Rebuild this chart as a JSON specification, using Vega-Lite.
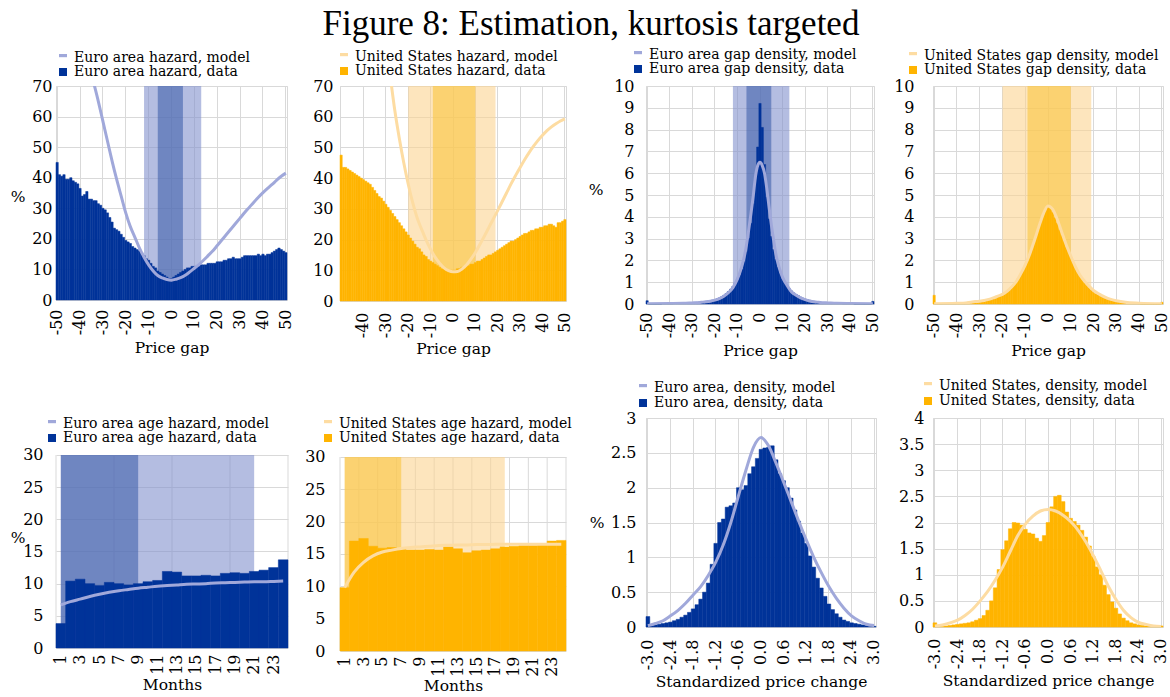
{
"$schema": "https://vega.github.io/schema/vega-lite/v6.json",
"padding": {"left": 0, "top": 7, "right": 0, "bottom": 0},
"title": {"text": "Figure 8: Estimation, kurtosis targeted", "anchor": "middle", "dx": 6, "font": "Liberation Serif", "fontSize": 35, "fontWeight": "normal", "color": "#000", "offset": 3},
"config": {
 "font": "DejaVu Serif, Liberation Serif, serif",
 "view": {"stroke": "#d9d9d9"},
 "axis": {"labelFont": "DejaVu Serif, Liberation Serif, serif", "labelFontSize": 16, "labelColor": "#000", "labelOverlap": false, "labelBound": false, "labelFlush": false, "titleFont": "DejaVu Serif, Liberation Serif, serif", "titleFontSize": 15.5, "titleFontWeight": "normal", "titleColor": "#000", "ticks": false, "domain": false, "gridColor": "#d9d9d9", "gridWidth": 1},
 "legend": {"orient": "none", "direction": "vertical", "labelFont": "DejaVu Serif, Liberation Serif, serif", "labelFontSize": 14, "labelColor": "#000", "labelLimit": 400, "symbolSize": 64, "symbolStrokeWidth": 0, "labelOffset": 4, "padding": 0, "rowPadding": 0}
},
"resolve": {"scale": {"color": "independent", "shape": "independent"}, "legend": {"color": "independent", "shape": "independent"}},
"datasets": {
"p1": [{"g":-50,"d":45},{"g":-49,"d":41},{"g":-48,"d":40.5},{"g":-47,"d":41},{"g":-46,"d":39.5},{"g":-45,"d":39.5},{"g":-44,"d":40},{"g":-43,"d":39},{"g":-42,"d":38.5},{"g":-41,"d":38},{"g":-40,"d":36.5},{"g":-39,"d":34},{"g":-38,"d":34.5},{"g":-37,"d":35.5},{"g":-36,"d":33},{"g":-35,"d":33},{"g":-34,"d":32.5,"f":71},{"g":-33,"d":32.5},{"g":-32,"d":31.5,"f":65},{"g":-31,"d":31},{"g":-30,"d":30,"f":58.5},{"g":-29,"d":29.5},{"g":-28,"d":28.5,"f":52},{"g":-27,"d":27},{"g":-26,"d":25.5,"f":45.5},{"g":-25,"d":23.5},{"g":-24,"d":23,"f":39.5},{"g":-23,"d":22.5},{"g":-22,"d":21.5,"f":34},{"g":-21,"d":20.5},{"g":-20,"d":19.5,"f":28.5},{"g":-19,"d":19},{"g":-18,"d":18.5,"f":24},{"g":-17,"d":17.5},{"g":-16,"d":17,"f":20.5},{"g":-15,"d":16.5},{"g":-14,"d":16,"f":17},{"g":-13,"d":15.5},{"g":-12,"d":14.5,"f":14},{"g":-11,"d":13.5},{"g":-10,"d":13,"f":11.5},{"g":-9,"d":12},{"g":-8,"d":11,"f":9.5},{"g":-7,"d":10.5},{"g":-6,"d":9.5,"f":8},{"g":-5,"d":9},{"g":-4,"d":8.5,"f":7.2},{"g":-3,"d":8},{"g":-2,"d":7.5,"f":6.7},{"g":-1,"d":7},{"g":0,"d":7,"f":6.5},{"g":1,"d":7.5},{"g":2,"d":8,"f":6.8},{"g":3,"d":8.5},{"g":4,"d":9,"f":7.3},{"g":5,"d":9.5},{"g":6,"d":10,"f":8.1},{"g":7,"d":10.5},{"g":8,"d":10.5,"f":9.2},{"g":9,"d":11},{"g":10,"d":11,"f":10.4},{"g":11,"d":11},{"g":12,"d":11,"f":11.6},{"g":13,"d":11.5},{"g":14,"d":11.5,"f":13},{"g":15,"d":11.5},{"g":16,"d":12,"f":14.5},{"g":17,"d":12},{"g":18,"d":12,"f":16},{"g":19,"d":12},{"g":20,"d":12.5,"f":17.8},{"g":21,"d":12.5},{"g":22,"d":12.5,"f":19.6},{"g":23,"d":13},{"g":24,"d":13,"f":21.4},{"g":25,"d":13.5},{"g":26,"d":13.5,"f":23.2},{"g":27,"d":14},{"g":28,"d":13.5,"f":25},{"g":29,"d":13.5},{"g":30,"d":13.5,"f":26.8},{"g":31,"d":14},{"g":32,"d":14.5,"f":28.6},{"g":33,"d":14.5},{"g":34,"d":14.5,"f":30.3},{"g":35,"d":14.5},{"g":36,"d":14.5,"f":32},{"g":37,"d":14.5},{"g":38,"d":15,"f":33.6},{"g":39,"d":14.5},{"g":40,"d":15,"f":35.1},{"g":41,"d":14.5},{"g":42,"d":15,"f":36.5},{"g":43,"d":15},{"g":44,"d":15.5,"f":37.8},{"g":45,"d":16},{"g":46,"d":16.5,"f":39.2},{"g":47,"d":17},{"g":48,"d":16.5,"f":40.5},{"g":49,"d":16},{"g":50,"d":15.5,"f":41.5}],
"p2": [{"g":-50,"d":47.5},{"g":-49,"d":43.5},{"g":-48,"d":43.5},{"g":-47,"d":43},{"g":-46,"d":42.5},{"g":-45,"d":42},{"g":-44,"d":41.5},{"g":-43,"d":41},{"g":-42,"d":40.5},{"g":-41,"d":40},{"g":-40,"d":39.5},{"g":-39,"d":39},{"g":-38,"d":38.5},{"g":-37,"d":38},{"g":-36,"d":37},{"g":-35,"d":36},{"g":-34,"d":35},{"g":-33,"d":34},{"g":-32,"d":33.5},{"g":-31,"d":32.5},{"g":-30,"d":31.5},{"g":-29,"d":30.5},{"g":-28,"d":29.5,"f":73},{"g":-27,"d":28.5},{"g":-26,"d":27.5,"f":62},{"g":-25,"d":26.5},{"g":-24,"d":25.5,"f":53},{"g":-23,"d":24.5},{"g":-22,"d":23.5,"f":45},{"g":-21,"d":22.5},{"g":-20,"d":21.5,"f":38},{"g":-19,"d":20.5},{"g":-18,"d":19.5,"f":32},{"g":-17,"d":18.5},{"g":-16,"d":17.5,"f":27},{"g":-15,"d":17},{"g":-14,"d":16,"f":23.3},{"g":-13,"d":15},{"g":-12,"d":14.5,"f":19.8},{"g":-11,"d":13.5},{"g":-10,"d":13,"f":16.8},{"g":-9,"d":12.5},{"g":-8,"d":12,"f":14.3},{"g":-7,"d":11.5},{"g":-6,"d":11,"f":12.3},{"g":-5,"d":10.5},{"g":-4,"d":10.5,"f":10.8},{"g":-3,"d":10},{"g":-2,"d":10,"f":9.9},{"g":-1,"d":10},{"g":0,"d":10,"f":9.5},{"g":1,"d":10},{"g":2,"d":10.5,"f":9.6},{"g":3,"d":10.5},{"g":4,"d":11,"f":10.4},{"g":5,"d":11},{"g":6,"d":11.5,"f":11.7},{"g":7,"d":11.5},{"g":8,"d":12,"f":13.6},{"g":9,"d":12},{"g":10,"d":12.5,"f":15.8},{"g":11,"d":13},{"g":12,"d":13,"f":18.4},{"g":13,"d":13.5},{"g":14,"d":14,"f":21.1},{"g":15,"d":14.5},{"g":16,"d":15,"f":23.9},{"g":17,"d":15},{"g":18,"d":15.5,"f":26.7},{"g":19,"d":16},{"g":20,"d":16.5,"f":29.5},{"g":21,"d":17},{"g":22,"d":17.5,"f":32.4},{"g":23,"d":18},{"g":24,"d":18.5,"f":35.3},{"g":25,"d":19},{"g":26,"d":19.5,"f":38.2},{"g":27,"d":19.5},{"g":28,"d":20,"f":40.9},{"g":29,"d":20.5},{"g":30,"d":21,"f":43.5},{"g":31,"d":21.5},{"g":32,"d":22,"f":46},{"g":33,"d":22},{"g":34,"d":22.5,"f":48.3},{"g":35,"d":23},{"g":36,"d":23,"f":50.4},{"g":37,"d":23.5},{"g":38,"d":23.5,"f":52.3},{"g":39,"d":24},{"g":40,"d":24,"f":54},{"g":41,"d":24.5},{"g":42,"d":24.5,"f":55.5},{"g":43,"d":25},{"g":44,"d":25,"f":56.7},{"g":45,"d":24.5},{"g":46,"d":24,"f":57.7},{"g":47,"d":25.5},{"g":48,"d":25.5,"f":58.6},{"g":49,"d":26},{"g":50,"d":26.5,"f":59.3}],
"p3": [{"g":-50,"d":0.15,"f":0.01},{"g":-49,"d":0.01},{"g":-48,"d":0.01},{"g":-47,"d":0.01},{"g":-46,"d":0.01},{"g":-45,"d":0.01},{"g":-44,"d":0.01},{"g":-43,"d":0.02},{"g":-42,"d":0.02},{"g":-41,"d":0.02},{"g":-40,"d":0.02,"f":0.02},{"g":-39,"d":0.02},{"g":-38,"d":0.03},{"g":-37,"d":0.03},{"g":-36,"d":0.03},{"g":-35,"d":0.04},{"g":-34,"d":0.04,"f":0.03},{"g":-33,"d":0.05},{"g":-32,"d":0.05},{"g":-31,"d":0.06},{"g":-30,"d":0.06,"f":0.05},{"g":-29,"d":0.07},{"g":-28,"d":0.08,"f":0.06},{"g":-27,"d":0.09},{"g":-26,"d":0.1,"f":0.08},{"g":-25,"d":0.11},{"g":-24,"d":0.12,"f":0.1},{"g":-23,"d":0.14},{"g":-22,"d":0.16,"f":0.13},{"g":-21,"d":0.18},{"g":-20,"d":0.2,"f":0.18},{"g":-19,"d":0.24},{"g":-18,"d":0.28,"f":0.25},{"g":-17,"d":0.33},{"g":-16,"d":0.4,"f":0.36},{"g":-15,"d":0.48},{"g":-14,"d":0.57,"f":0.52},{"g":-13,"d":0.68},{"g":-12,"d":0.8,"f":0.75},{"g":-11,"d":0.95},{"g":-10,"d":1.1,"f":1.15},{"g":-9,"d":1.33,"f":1.42},{"g":-8,"d":1.6,"f":1.75},{"g":-7,"d":1.95,"f":2.15},{"g":-6,"d":2.4,"f":2.7},{"g":-5,"d":3.0,"f":3.4},{"g":-4,"d":3.7,"f":4.15},{"g":-3,"d":4.6,"f":4.95},{"g":-2,"d":5.7,"f":5.85},{"g":-1,"d":7.2,"f":6.35},{"g":0,"d":9.2,"f":6.5},{"g":1,"d":8.1,"f":6.35},{"g":2,"d":6.4,"f":6.0},{"g":3,"d":4.9,"f":5.3},{"g":4,"d":3.9,"f":4.45},{"g":5,"d":3.1,"f":3.65},{"g":6,"d":2.5,"f":2.95},{"g":7,"d":2.05,"f":2.3},{"g":8,"d":1.7,"f":1.85},{"g":9,"d":1.4,"f":1.5},{"g":10,"d":1.15,"f":1.22},{"g":11,"d":0.97},{"g":12,"d":0.82,"f":0.85},{"g":13,"d":0.7},{"g":14,"d":0.6,"f":0.55},{"g":15,"d":0.51},{"g":16,"d":0.44,"f":0.4},{"g":17,"d":0.38},{"g":18,"d":0.32,"f":0.28},{"g":19,"d":0.27},{"g":20,"d":0.23,"f":0.2},{"g":21,"d":0.2},{"g":22,"d":0.17,"f":0.14},{"g":23,"d":0.14},{"g":24,"d":0.12,"f":0.1},{"g":25,"d":0.1},{"g":26,"d":0.09,"f":0.08},{"g":27,"d":0.08},{"g":28,"d":0.07,"f":0.06},{"g":29,"d":0.06},{"g":30,"d":0.05,"f":0.05},{"g":31,"d":0.05},{"g":32,"d":0.04},{"g":33,"d":0.04},{"g":34,"d":0.03,"f":0.03},{"g":35,"d":0.03},{"g":36,"d":0.03},{"g":37,"d":0.02},{"g":38,"d":0.02},{"g":39,"d":0.02},{"g":40,"d":0.02,"f":0.02},{"g":41,"d":0.02},{"g":42,"d":0.01},{"g":43,"d":0.01},{"g":44,"d":0.01},{"g":45,"d":0.01},{"g":46,"d":0.01},{"g":47,"d":0.01},{"g":48,"d":0.01},{"g":49,"d":0.01},{"g":50,"d":0.12,"f":0.01}],
"p4": [{"g":-50,"d":0.4,"f":0.01},{"g":-49,"d":0.02},{"g":-48,"d":0.02},{"g":-47,"d":0.02},{"g":-46,"d":0.03},{"g":-45,"d":0.03},{"g":-44,"d":0.03},{"g":-43,"d":0.04},{"g":-42,"d":0.04},{"g":-41,"d":0.05},{"g":-40,"d":0.05,"f":0.03},{"g":-39,"d":0.06},{"g":-38,"d":0.06},{"g":-37,"d":0.07},{"g":-36,"d":0.07,"f":0.05},{"g":-35,"d":0.08},{"g":-34,"d":0.09,"f":0.08},{"g":-33,"d":0.1},{"g":-32,"d":0.11,"f":0.11},{"g":-31,"d":0.12},{"g":-30,"d":0.14,"f":0.13},{"g":-29,"d":0.16},{"g":-28,"d":0.18,"f":0.16},{"g":-27,"d":0.2},{"g":-26,"d":0.22,"f":0.21},{"g":-25,"d":0.25},{"g":-24,"d":0.28,"f":0.28},{"g":-23,"d":0.31},{"g":-22,"d":0.35,"f":0.36},{"g":-21,"d":0.4},{"g":-20,"d":0.45,"f":0.44},{"g":-19,"d":0.5},{"g":-18,"d":0.57,"f":0.58},{"g":-17,"d":0.66},{"g":-16,"d":0.76,"f":0.78},{"g":-15,"d":0.87},{"g":-14,"d":1.0,"f":1.02},{"g":-13,"d":1.17},{"g":-12,"d":1.35,"f":1.38},{"g":-11,"d":1.55},{"g":-10,"d":1.75,"f":1.8},{"g":-9,"d":2.0},{"g":-8,"d":2.25,"f":2.3},{"g":-7,"d":2.55},{"g":-6,"d":2.85,"f":2.9},{"g":-5,"d":3.2},{"g":-4,"d":3.5,"f":3.55},{"g":-3,"d":3.85},{"g":-2,"d":4.1,"f":4.15},{"g":-1,"d":4.35},{"g":0,"d":4.45,"f":4.5},{"g":1,"d":4.38},{"g":2,"d":4.2,"f":4.35},{"g":3,"d":3.95},{"g":4,"d":3.7,"f":3.9},{"g":5,"d":3.4},{"g":6,"d":3.15,"f":3.3},{"g":7,"d":2.88},{"g":8,"d":2.6,"f":2.72},{"g":9,"d":2.4},{"g":10,"d":2.15,"f":2.2},{"g":11,"d":1.9},{"g":12,"d":1.68,"f":1.72},{"g":13,"d":1.48},{"g":14,"d":1.3,"f":1.33},{"g":15,"d":1.13},{"g":16,"d":0.98,"f":1.05},{"g":17,"d":0.86},{"g":18,"d":0.75,"f":0.82},{"g":19,"d":0.65},{"g":20,"d":0.56,"f":0.62},{"g":21,"d":0.48},{"g":22,"d":0.42,"f":0.48},{"g":23,"d":0.36},{"g":24,"d":0.31,"f":0.37},{"g":25,"d":0.26},{"g":26,"d":0.22,"f":0.27},{"g":27,"d":0.19},{"g":28,"d":0.16,"f":0.2},{"g":29,"d":0.13},{"g":30,"d":0.11,"f":0.15},{"g":31,"d":0.09},{"g":32,"d":0.08},{"g":33,"d":0.07},{"g":34,"d":0.06,"f":0.08},{"g":35,"d":0.05},{"g":36,"d":0.04},{"g":37,"d":0.04},{"g":38,"d":0.03},{"g":39,"d":0.03},{"g":40,"d":0.02,"f":0.04},{"g":41,"d":0.01},{"g":42,"d":0.01},{"g":43,"d":0.01},{"g":44,"d":0.01},{"g":45,"d":0.01},{"g":46,"d":0.01},{"g":47,"d":0.01},{"g":48,"d":0.01},{"g":49,"d":0.01},{"g":50,"d":0.08,"f":0.01}],
"p5": [{"g":1,"d":3.8,"f":6.7},{"g":2,"d":10.4,"f":7.2},{"g":3,"d":10.7,"f":7.6},{"g":4,"d":10.0,"f":8.0},{"g":5,"d":9.7,"f":8.35},{"g":6,"d":10.2,"f":8.65},{"g":7,"d":10.0,"f":8.9},{"g":8,"d":9.8,"f":9.1},{"g":9,"d":10.0,"f":9.3},{"g":10,"d":10.3,"f":9.45},{"g":11,"d":10.5,"f":9.6},{"g":12,"d":11.9,"f":9.7},{"g":13,"d":11.8,"f":9.8},{"g":14,"d":11.2,"f":9.9},{"g":15,"d":11.2,"f":9.95},{"g":16,"d":11.3,"f":10.0},{"g":17,"d":11.2,"f":10.1},{"g":18,"d":11.6,"f":10.15},{"g":19,"d":11.7,"f":10.2},{"g":20,"d":11.6,"f":10.25},{"g":21,"d":11.9,"f":10.3},{"g":22,"d":12.1,"f":10.3},{"g":23,"d":12.5,"f":10.35},{"g":24,"d":13.7,"f":10.4}],
"p6": [{"g":1,"d":9.8,"f":9.8},{"g":2,"d":17.0,"f":12.2},{"g":3,"d":17.4,"f":13.7},{"g":4,"d":16.2,"f":14.7},{"g":5,"d":15.9,"f":15.3},{"g":6,"d":16.0,"f":15.6},{"g":7,"d":15.8,"f":15.85},{"g":8,"d":15.6,"f":16.0},{"g":9,"d":15.6,"f":16.1},{"g":10,"d":15.7,"f":16.2},{"g":11,"d":15.6,"f":16.3},{"g":12,"d":16.1,"f":16.35},{"g":13,"d":15.8,"f":16.4},{"g":14,"d":15.2,"f":16.4},{"g":15,"d":15.5,"f":16.45},{"g":16,"d":15.6,"f":16.45},{"g":17,"d":15.8,"f":16.5},{"g":18,"d":16.1,"f":16.5},{"g":19,"d":16.2,"f":16.5},{"g":20,"d":16.3,"f":16.5},{"g":21,"d":16.3,"f":16.5},{"g":22,"d":16.4,"f":16.5},{"g":23,"d":17.0,"f":16.5},{"g":24,"d":17.1,"f":16.5}],
"p7": [{"g":-3,"d":0.15,"f":0.02},{"g":-2.9,"d":0.02},{"g":-2.8,"d":0.03,"f":0.05},{"g":-2.7,"d":0.04},{"g":-2.6,"d":0.05,"f":0.09},{"g":-2.5,"d":0.06},{"g":-2.4,"d":0.07,"f":0.16},{"g":-2.3,"d":0.09},{"g":-2.2,"d":0.11,"f":0.24},{"g":-2.1,"d":0.14},{"g":-2,"d":0.17,"f":0.34},{"g":-1.9,"d":0.21},{"g":-1.8,"d":0.26,"f":0.46},{"g":-1.7,"d":0.32},{"g":-1.6,"d":0.4,"f":0.58},{"g":-1.5,"d":0.5},{"g":-1.4,"d":0.63,"f":0.74},{"g":-1.3,"d":0.9},{"g":-1.2,"d":1.2,"f":0.93},{"g":-1.1,"d":1.5},{"g":-1,"d":1.55,"f":1.18},{"g":-0.9,"d":1.72},{"g":-0.8,"d":1.74,"f":1.5},{"g":-0.7,"d":1.78},{"g":-0.6,"d":2.0,"f":1.88},{"g":-0.5,"d":1.97},{"g":-0.4,"d":2.03,"f":2.25},{"g":-0.3,"d":2.2},{"g":-0.2,"d":2.3,"f":2.58},{"g":-0.1,"d":2.42},{"g":0,"d":2.55,"f":2.72},{"g":0.1,"d":2.57},{"g":0.2,"d":2.58,"f":2.6},{"g":0.3,"d":2.6},{"g":0.4,"d":2.4,"f":2.35},{"g":0.5,"d":2.2},{"g":0.6,"d":2.1,"f":2.08},{"g":0.7,"d":2.0},{"g":0.8,"d":1.85,"f":1.8},{"g":0.9,"d":1.68},{"g":1,"d":1.52,"f":1.52},{"g":1.1,"d":1.35},{"g":1.2,"d":1.2,"f":1.25},{"g":1.3,"d":1.02},{"g":1.4,"d":0.86,"f":1.0},{"g":1.5,"d":0.7},{"g":1.6,"d":0.56,"f":0.78},{"g":1.7,"d":0.44},{"g":1.8,"d":0.33,"f":0.58},{"g":1.9,"d":0.25},{"g":2,"d":0.19,"f":0.41},{"g":2.1,"d":0.14},{"g":2.2,"d":0.1,"f":0.27},{"g":2.3,"d":0.08},{"g":2.4,"d":0.06,"f":0.16},{"g":2.5,"d":0.05},{"g":2.6,"d":0.04,"f":0.09},{"g":2.7,"d":0.03},{"g":2.8,"d":0.02,"f":0.04},{"g":2.9,"d":0.01},{"g":3,"d":0.01,"f":0.02}],
"p8": [{"g":-3,"d":0.08,"f":0.02},{"g":-2.9,"d":0.01},{"g":-2.8,"d":0.01,"f":0.04},{"g":-2.7,"d":0.02},{"g":-2.6,"d":0.03,"f":0.08},{"g":-2.5,"d":0.04},{"g":-2.4,"d":0.05,"f":0.13},{"g":-2.3,"d":0.06},{"g":-2.2,"d":0.07,"f":0.22},{"g":-2.1,"d":0.08},{"g":-2,"d":0.1,"f":0.34},{"g":-1.9,"d":0.13},{"g":-1.8,"d":0.16,"f":0.5},{"g":-1.7,"d":0.22},{"g":-1.6,"d":0.32,"f":0.68},{"g":-1.5,"d":0.5},{"g":-1.4,"d":0.75,"f":0.9},{"g":-1.3,"d":1.1},{"g":-1.2,"d":1.48,"f":1.15},{"g":-1.1,"d":1.65},{"g":-1,"d":1.88,"f":1.45},{"g":-0.9,"d":2.0},{"g":-0.8,"d":1.99,"f":1.75},{"g":-0.7,"d":1.95},{"g":-0.6,"d":1.87,"f":1.97},{"g":-0.5,"d":1.8},{"g":-0.4,"d":1.78,"f":2.12},{"g":-0.3,"d":1.7},{"g":-0.2,"d":1.64,"f":2.22},{"g":-0.1,"d":1.75},{"g":0,"d":2.0,"f":2.25},{"g":0.1,"d":2.3},{"g":0.2,"d":2.5,"f":2.22},{"g":0.3,"d":2.52},{"g":0.4,"d":2.4,"f":2.14},{"g":0.5,"d":2.2},{"g":0.6,"d":2.08,"f":2.02},{"g":0.7,"d":2.02},{"g":0.8,"d":1.95,"f":1.85},{"g":0.9,"d":1.85},{"g":1,"d":1.72,"f":1.63},{"g":1.1,"d":1.55},{"g":1.2,"d":1.35,"f":1.37},{"g":1.3,"d":1.15},{"g":1.4,"d":1.0,"f":1.08},{"g":1.5,"d":0.8},{"g":1.6,"d":0.62,"f":0.78},{"g":1.7,"d":0.48},{"g":1.8,"d":0.36,"f":0.53},{"g":1.9,"d":0.25},{"g":2,"d":0.17,"f":0.32},{"g":2.1,"d":0.12},{"g":2.2,"d":0.08,"f":0.18},{"g":2.3,"d":0.06},{"g":2.4,"d":0.04,"f":0.09},{"g":2.5,"d":0.03},{"g":2.6,"d":0.02,"f":0.05},{"g":2.7,"d":0.015},{"g":2.8,"d":0.01,"f":0.02},{"g":2.9,"d":0.01},{"g":3,"d":0.02,"f":0.01}]
},
"columns": 8,
"spacing": 0,
"align": "each",
"bounds": "flush",
"concat": [
{"width":1,"height":41,"mark":"point","data":{"values":[]},"view":{"stroke":null}},
{"width":1,"height":1,"mark":"point","data":{"values":[]},"view":{"stroke":null}},
{"width":1,"height":1,"mark":"point","data":{"values":[]},"view":{"stroke":null}},
{"width":1,"height":1,"mark":"point","data":{"values":[]},"view":{"stroke":null}},
{"width":1,"height":1,"mark":"point","data":{"values":[]},"view":{"stroke":null}},
{"width":1,"height":1,"mark":"point","data":{"values":[]},"view":{"stroke":null}},
{"width":1,"height":1,"mark":"point","data":{"values":[]},"view":{"stroke":null}},
{"width":1,"height":1,"mark":"point","data":{"values":[]},"view":{"stroke":null}},

{"width":56,"height":1,"mark":"point","data":{"values":[]},"view":{"stroke":null}},
{"width":231,"height":214,"data":{"name":"p1"},"resolve":{"axis":{"x":"independent","y":"independent"}},"layer":[
 {"data":{"values":[{"g":-12},{"g":13}]},"mark":{"type":"area","color":"#8291cd","opacity":0.6},"encoding":{"x":{"field":"g","type":"ordinal","axis":null},"y":{"datum":70,"type":"quantitative","axis":null}}},
 {"data":{"values":[{"g":-6},{"g":5}]},"mark":{"type":"area","color":"#4161ac","opacity":0.6},"encoding":{"x":{"field":"g","type":"ordinal","axis":null},"y":{"datum":70,"type":"quantitative","axis":null}}},
 {"mark":{"type":"bar","color":"#003399","stroke":"#003399","strokeWidth":0.5},"encoding":{"x":{"field":"g","type":"ordinal","scale":{"paddingInner":0,"paddingOuter":0},"axis":{"orient":"bottom","values":[-50,-40,-30,-20,-10,0,10,20,30,40,50],"labelOverlap":false,"labelAngle":-90,"labelPadding":9,"grid":true,"title":"Price gap","titlePadding":6}},"y":{"field":"d","type":"quantitative","scale":{"domain":[0,70],"nice":false},"axis":{"orient":"left","values":[0,10,20,30,40,50,60,70],"labelOverlap":false,"grid":true,"labelPadding":4,"title":"%","titleAngle":0,"titleAlign":"right","titleBaseline":"middle","titleX":-31,"titleY":110}}}},
 {"transform":[{"filter":"isValid(datum.f)"}],"mark":{"type":"line","color":"#a0a8da","strokeWidth":3,"clip":true,"interpolate":"monotone"},"encoding":{"x":{"field":"g","type":"ordinal","axis":null},"y":{"field":"f","type":"quantitative","axis":null}}},
 {"data":{"values":[]},"mark":{"type":"point","filled":true,"opacity":1},"encoding":{"color":{"field":"s","type":"nominal","scale":{"domain":["Euro area hazard, model","Euro area hazard, data"],"range":["#a0a8da","#003399"]},"legend":{"title":null,"legendX":0,"legendY":-35}},"shape":{"field":"s","type":"nominal","scale":{"domain":["Euro area hazard, model","Euro area hazard, data"],"range":["M-1,-1H1V-0.2H-1Z","square"]},"legend":{"title":null,"legendX":0,"legendY":-35}}}}
]},
{"width":52,"height":1,"mark":"point","data":{"values":[]},"view":{"stroke":null}},
{"width":226,"height":215,"data":{"name":"p2"},"resolve":{"axis":{"x":"independent","y":"independent"}},"layer":[
 {"data":{"values":[{"g":-20},{"g":19}]},"mark":{"type":"area","color":"#fcd491","opacity":0.6},"encoding":{"x":{"field":"g","type":"ordinal","axis":null},"y":{"datum":70,"type":"quantitative","axis":null}}},
 {"data":{"values":[{"g":-9},{"g":10}]},"mark":{"type":"area","color":"#fac43d","opacity":0.6},"encoding":{"x":{"field":"g","type":"ordinal","axis":null},"y":{"datum":70,"type":"quantitative","axis":null}}},
 {"mark":{"type":"bar","color":"#ffb400","stroke":"#ffb400","strokeWidth":0.5},"encoding":{"x":{"field":"g","type":"ordinal","scale":{"paddingInner":0,"paddingOuter":0},"axis":{"orient":"bottom","values":[-50,-40,-30,-20,-10,0,10,20,30,40,50],"labelOverlap":false,"labelBound":false,"labelFlush":false,"labelAngle":-90,"labelPadding":11,"grid":true,"title":"Price gap","titlePadding":4}},"y":{"field":"d","type":"quantitative","scale":{"domain":[0,70],"nice":false},"axis":{"orient":"left","values":[0,10,20,30,40,50,60,70],"labelOverlap":false,"grid":true,"labelPadding":7,"title":null}}}},
 {"transform":[{"filter":"isValid(datum.f)"}],"mark":{"type":"line","color":"#fddca2","strokeWidth":3,"clip":true,"interpolate":"monotone"},"encoding":{"x":{"field":"g","type":"ordinal","axis":null},"y":{"field":"f","type":"quantitative","axis":null}}},
 {"data":{"values":[]},"mark":{"type":"point","filled":true,"opacity":1},"encoding":{"color":{"field":"s","type":"nominal","scale":{"domain":["United States hazard, model","United States hazard, data"],"range":["#fddca2","#ffb400"]},"legend":{"title":null,"legendX":-3,"legendY":-36}},"shape":{"field":"s","type":"nominal","scale":{"domain":["United States hazard, model","United States hazard, data"],"range":["M-1,-1H1V-0.2H-1Z","square"]},"legend":{"title":null,"legendX":-3,"legendY":-36}}}}
]},
{"width":80,"height":1,"mark":"point","data":{"values":[]},"view":{"stroke":null}},
{"width":228,"height":218,"data":{"name":"p3"},"resolve":{"axis":{"x":"independent","y":"independent"}},"layer":[
 {"data":{"values":[{"g":-12},{"g":13}]},"mark":{"type":"area","color":"#8291cd","opacity":0.6},"encoding":{"x":{"field":"g","type":"ordinal","axis":null},"y":{"datum":10,"type":"quantitative","axis":null}}},
 {"data":{"values":[{"g":-6},{"g":5}]},"mark":{"type":"area","color":"#4161ac","opacity":0.6},"encoding":{"x":{"field":"g","type":"ordinal","axis":null},"y":{"datum":10,"type":"quantitative","axis":null}}},
 {"mark":{"type":"bar","color":"#003399","stroke":"#003399","strokeWidth":0.5},"encoding":{"x":{"field":"g","type":"ordinal","scale":{"paddingInner":0,"paddingOuter":0},"axis":{"orient":"bottom","values":[-50,-40,-30,-20,-10,0,10,20,30,40,50],"labelOverlap":false,"labelAngle":-90,"labelPadding":8,"grid":true,"title":"Price gap","titlePadding":6}},"y":{"field":"d","type":"quantitative","scale":{"domain":[0,10],"nice":false},"axis":{"orient":"left","values":[0,1,2,3,4,5,6,7,8,9,10],"labelOverlap":false,"grid":true,"labelPadding":12,"title":"%","titleAngle":0,"titleAlign":"right","titleBaseline":"middle","titleX":-43,"titleY":103}}}},
 {"transform":[{"filter":"isValid(datum.f)"}],"mark":{"type":"line","color":"#a0a8da","strokeWidth":3,"clip":true,"interpolate":"monotone"},"encoding":{"x":{"field":"g","type":"ordinal","axis":null},"y":{"field":"f","type":"quantitative","axis":null}}},
 {"data":{"values":[]},"mark":{"type":"point","filled":true,"opacity":1},"encoding":{"color":{"field":"s","type":"nominal","scale":{"domain":["Euro area gap density, model","Euro area gap density, data"],"range":["#a0a8da","#003399"]},"legend":{"title":null,"legendX":-15,"legendY":-38}},"shape":{"field":"s","type":"nominal","scale":{"domain":["Euro area gap density, model","Euro area gap density, data"],"range":["M-1,-1H1V-0.2H-1Z","square"]},"legend":{"title":null,"legendX":-15,"legendY":-38}}}}
]},
{"width":57,"height":1,"mark":"point","data":{"values":[]},"view":{"stroke":null}},
{"width":230,"height":218,"data":{"name":"p4"},"resolve":{"axis":{"x":"independent","y":"independent"}},"layer":[
 {"data":{"values":[{"g":-20},{"g":19}]},"mark":{"type":"area","color":"#fcd491","opacity":0.6},"encoding":{"x":{"field":"g","type":"ordinal","axis":null},"y":{"datum":10,"type":"quantitative","axis":null}}},
 {"data":{"values":[{"g":-9},{"g":10}]},"mark":{"type":"area","color":"#fac43d","opacity":0.6},"encoding":{"x":{"field":"g","type":"ordinal","axis":null},"y":{"datum":10,"type":"quantitative","axis":null}}},
 {"mark":{"type":"bar","color":"#ffb400","stroke":"#ffb400","strokeWidth":0.5},"encoding":{"x":{"field":"g","type":"ordinal","scale":{"paddingInner":0,"paddingOuter":0},"axis":{"orient":"bottom","values":[-50,-40,-30,-20,-10,0,10,20,30,40,50],"labelOverlap":false,"labelAngle":-90,"labelPadding":8,"grid":true,"title":"Price gap","titlePadding":6}},"y":{"field":"d","type":"quantitative","scale":{"domain":[0,10],"nice":false},"axis":{"orient":"left","values":[0,1,2,3,4,5,6,7,8,9,10],"labelOverlap":false,"grid":true,"labelPadding":19,"title":null}}}},
 {"transform":[{"filter":"isValid(datum.f)"}],"mark":{"type":"line","color":"#fddca2","strokeWidth":3,"clip":true,"interpolate":"monotone"},"encoding":{"x":{"field":"g","type":"ordinal","axis":null},"y":{"field":"f","type":"quantitative","axis":null}}},
 {"data":{"values":[]},"mark":{"type":"point","filled":true,"opacity":1},"encoding":{"color":{"field":"s","type":"nominal","scale":{"domain":["United States gap density, model","United States gap density, data"],"range":["#fddca2","#ffb400"]},"legend":{"title":null,"legendX":-27,"legendY":-37}},"shape":{"field":"s","type":"nominal","scale":{"domain":["United States gap density, model","United States gap density, data"],"range":["M-1,-1H1V-0.2H-1Z","square"]},"legend":{"title":null,"legendX":-27,"legendY":-37}}}}
]},

{"width":1,"height":114,"mark":"point","data":{"values":[]},"view":{"stroke":null}},
{"width":1,"height":1,"mark":"point","data":{"values":[]},"view":{"stroke":null}},
{"width":1,"height":1,"mark":"point","data":{"values":[]},"view":{"stroke":null}},
{"width":1,"height":1,"mark":"point","data":{"values":[]},"view":{"stroke":null}},
{"width":1,"height":1,"mark":"point","data":{"values":[]},"view":{"stroke":null}},
{"width":1,"height":1,"mark":"point","data":{"values":[]},"view":{"stroke":null}},
{"width":1,"height":1,"mark":"point","data":{"values":[]},"view":{"stroke":null}},
{"width":1,"height":1,"mark":"point","data":{"values":[]},"view":{"stroke":null}},

{"width":56,"height":1,"mark":"point","data":{"values":[]},"view":{"stroke":null}},
{"width":232,"height":230,"data":{"name":"p5"},"view":{"stroke":null},"resolve":{"axis":{"x":"independent","y":"independent"}},"layer":[
 {"data":{"values":[{"g":6},{"g":12},{"g":18},{"g":24}]},"mark":{"type":"rule","color":"#d9d9d9","strokeWidth":1},"encoding":{"x":{"field":"g","type":"ordinal","bandPosition":1,"axis":null},"y":{"datum":0,"type":"quantitative","axis":null},"y2":{"datum":30}}},
 {"data":{"values":[{"g":1}]},"mark":{"type":"rule","color":"#d9d9d9","strokeWidth":1},"encoding":{"x":{"field":"g","type":"ordinal","bandPosition":0,"axis":null},"y":{"datum":0,"type":"quantitative","axis":null},"y2":{"datum":30}}},
 {"data":{"values":[{"g":1},{"g":21}]},"mark":{"type":"area","color":"#8291cd","opacity":0.6},"encoding":{"x":{"field":"g","type":"ordinal","axis":null},"y":{"datum":30,"type":"quantitative","axis":null}}},
 {"data":{"values":[{"g":1},{"g":9}]},"mark":{"type":"area","color":"#4161ac","opacity":0.6},"encoding":{"x":{"field":"g","type":"ordinal","axis":null},"y":{"datum":30,"type":"quantitative","axis":null}}},
 {"mark":{"type":"bar","color":"#003399","stroke":"#003399","strokeWidth":0.5},"encoding":{"x":{"field":"g","type":"ordinal","scale":{"paddingInner":0,"paddingOuter":0},"axis":{"orient":"bottom","values":[1,3,5,7,9,11,13,15,17,19,21,23],"labelOverlap":false,"labelAngle":-90,"labelPadding":6,"grid":false,"title":"Months","titlePadding":3}},"y":{"field":"d","type":"quantitative","scale":{"domain":[0,35.75],"nice":false},"axis":{"orient":"left","values":[0,5,10,15,20,25,30],"labelOverlap":false,"grid":true,"labelPadding":13,"title":"%","titleAngle":0,"titleAlign":"right","titleBaseline":"middle","titleX":-31,"titleY":119}}}},
 {"mark":{"type":"line","color":"#a0a8da","strokeWidth":3,"clip":true,"interpolate":"monotone"},"encoding":{"x":{"field":"g","type":"ordinal","axis":null},"y":{"field":"f","type":"quantitative","axis":null}}},
 {"data":{"values":[]},"mark":{"type":"point","filled":true,"opacity":1},"encoding":{"color":{"field":"s","type":"nominal","scale":{"domain":["Euro area age hazard, model","Euro area age hazard, data"],"range":["#a0a8da","#003399"]},"legend":{"title":null,"legendX":-11,"legendY":-1}},"shape":{"field":"s","type":"nominal","scale":{"domain":["Euro area age hazard, model","Euro area age hazard, data"],"range":["M-1,-1H1V-0.2H-1Z","square"]},"legend":{"title":null,"legendX":-11,"legendY":-1}}}}
]},
{"width":52,"height":1,"mark":"point","data":{"values":[]},"view":{"stroke":null}},
{"width":226,"height":233,"data":{"name":"p6"},"view":{"stroke":null},"resolve":{"axis":{"x":"independent","y":"independent"}},"layer":[
 {"data":{"values":[{"g":2},{"g":4},{"g":6},{"g":8},{"g":10},{"g":12},{"g":14},{"g":16},{"g":18},{"g":20},{"g":22},{"g":24}]},"mark":{"type":"rule","color":"#d9d9d9","strokeWidth":1},"encoding":{"x":{"field":"g","type":"ordinal","bandPosition":1,"axis":null},"y":{"datum":0,"type":"quantitative","axis":null},"y2":{"datum":30}}},
 {"data":{"values":[{"g":1}]},"mark":{"type":"rule","color":"#d9d9d9","strokeWidth":1},"encoding":{"x":{"field":"g","type":"ordinal","bandPosition":0,"axis":null},"y":{"datum":0,"type":"quantitative","axis":null},"y2":{"datum":30}}},
 {"data":{"values":[{"g":1},{"g":18}]},"mark":{"type":"area","color":"#fcd491","opacity":0.6},"encoding":{"x":{"field":"g","type":"ordinal","axis":null},"y":{"datum":30,"type":"quantitative","axis":null}}},
 {"data":{"values":[{"g":1},{"g":7}]},"mark":{"type":"area","color":"#fac43d","opacity":0.6},"encoding":{"x":{"field":"g","type":"ordinal","axis":null},"y":{"datum":30,"type":"quantitative","axis":null}}},
 {"mark":{"type":"bar","color":"#ffb400","stroke":"#ffb400","strokeWidth":0.5},"encoding":{"x":{"field":"g","type":"ordinal","scale":{"paddingInner":0,"paddingOuter":0},"axis":{"orient":"bottom","values":[1,3,5,7,9,11,13,15,17,19,21,23],"labelOverlap":false,"labelAngle":-90,"labelPadding":5,"grid":false,"title":"Months","titlePadding":2}},"y":{"field":"d","type":"quantitative","scale":{"domain":[0,36.03],"nice":false},"axis":{"orient":"left","values":[0,5,10,15,20,25,30],"labelOverlap":false,"grid":true,"labelPadding":15,"title":null}}}},
 {"mark":{"type":"line","color":"#fddca2","strokeWidth":3,"clip":true,"interpolate":"monotone"},"encoding":{"x":{"field":"g","type":"ordinal","axis":null},"y":{"field":"f","type":"quantitative","axis":null}}},
 {"data":{"values":[]},"mark":{"type":"point","filled":true,"opacity":1},"encoding":{"color":{"field":"s","type":"nominal","scale":{"domain":["United States age hazard, model","United States age hazard, data"],"range":["#fddca2","#ffb400"]},"legend":{"title":null,"legendX":-19,"legendY":-1}},"shape":{"field":"s","type":"nominal","scale":{"domain":["United States age hazard, model","United States age hazard, data"],"range":["M-1,-1H1V-0.2H-1Z","square"]},"legend":{"title":null,"legendX":-19,"legendY":-1}}}}
]},
{"width":80,"height":1,"mark":"point","data":{"values":[]},"view":{"stroke":null}},
{"width":230,"height":209,"data":{"name":"p7"},"resolve":{"axis":{"x":"independent","y":"independent"}},"layer":[
 {"mark":{"type":"bar","color":"#003399","stroke":"#003399","strokeWidth":0.5},"encoding":{"x":{"field":"g","type":"ordinal","scale":{"paddingInner":0,"paddingOuter":0},"axis":{"orient":"bottom","values":[-3,-2.4,-1.8,-1.2,-0.6,0,0.6,1.2,1.8,2.4,3],"labelOverlap":false,"labelExpr":"(datum.value < 0 ? '-' : '') + format(abs(datum.value), '.1f')","labelAngle":-90,"labelPadding":12,"grid":true,"title":"Standardized price change","titlePadding":5}},"y":{"field":"d","type":"quantitative","scale":{"domain":[0,3],"nice":false},"axis":{"orient":"left","values":[0,0.5,1,1.5,2,2.5,3],"labelOverlap":false,"labelExpr":"'' + datum.value","grid":true,"labelPadding":10,"title":"%","titleAngle":0,"titleAlign":"right","titleBaseline":"middle","titleX":-42,"titleY":104}}}},
 {"transform":[{"filter":"isValid(datum.f)"}],"mark":{"type":"line","color":"#a0a8da","strokeWidth":3,"clip":true,"interpolate":"monotone"},"encoding":{"x":{"field":"g","type":"ordinal","axis":null},"y":{"field":"f","type":"quantitative","axis":null}}},
 {"data":{"values":[]},"mark":{"type":"point","filled":true,"opacity":1},"encoding":{"color":{"field":"s","type":"nominal","scale":{"domain":["Euro area, density, model","Euro area, density, data"],"range":["#a0a8da","#003399"]},"legend":{"title":null,"legendX":-10,"legendY":-37,"rowPadding":1}},"shape":{"field":"s","type":"nominal","scale":{"domain":["Euro area, density, model","Euro area, density, data"],"range":["M-1,-1H1V-0.2H-1Z","square"]},"legend":{"title":null,"legendX":-10,"legendY":-37,"rowPadding":1}}}}
]},
{"width":57,"height":1,"mark":"point","data":{"values":[]},"view":{"stroke":null}},
{"width":230,"height":209,"data":{"name":"p8"},"resolve":{"axis":{"x":"independent","y":"independent"}},"layer":[
 {"mark":{"type":"bar","color":"#ffb400","stroke":"#ffb400","strokeWidth":0.5},"encoding":{"x":{"field":"g","type":"ordinal","scale":{"paddingInner":0,"paddingOuter":0},"axis":{"orient":"bottom","values":[-3,-2.4,-1.8,-1.2,-0.6,0,0.6,1.2,1.8,2.4,3],"labelOverlap":false,"labelExpr":"(datum.value < 0 ? '-' : '') + format(abs(datum.value), '.1f')","labelAngle":-90,"labelPadding":11,"grid":true,"title":"Standardized price change","titlePadding":5}},"y":{"field":"d","type":"quantitative","scale":{"domain":[0,4],"nice":false},"axis":{"orient":"left","values":[0,0.5,1,1.5,2,2.5,3,3.5,4],"labelOverlap":false,"labelExpr":"'' + datum.value","grid":true,"labelPadding":9,"title":null}}}},
 {"transform":[{"filter":"isValid(datum.f)"}],"mark":{"type":"line","color":"#fddca2","strokeWidth":3,"clip":true,"interpolate":"monotone"},"encoding":{"x":{"field":"g","type":"ordinal","axis":null},"y":{"field":"f","type":"quantitative","axis":null}}},
 {"data":{"values":[]},"mark":{"type":"point","filled":true,"opacity":1},"encoding":{"color":{"field":"s","type":"nominal","scale":{"domain":["United States, density, model","United States, density, data"],"range":["#fddca2","#ffb400"]},"legend":{"title":null,"legendX":-12,"legendY":-39,"rowPadding":1}},"shape":{"field":"s","type":"nominal","scale":{"domain":["United States, density, model","United States, density, data"],"range":["M-1,-1H1V-0.2H-1Z","square"]},"legend":{"title":null,"legendX":-12,"legendY":-39,"rowPadding":1}}}}
]}
]
}
